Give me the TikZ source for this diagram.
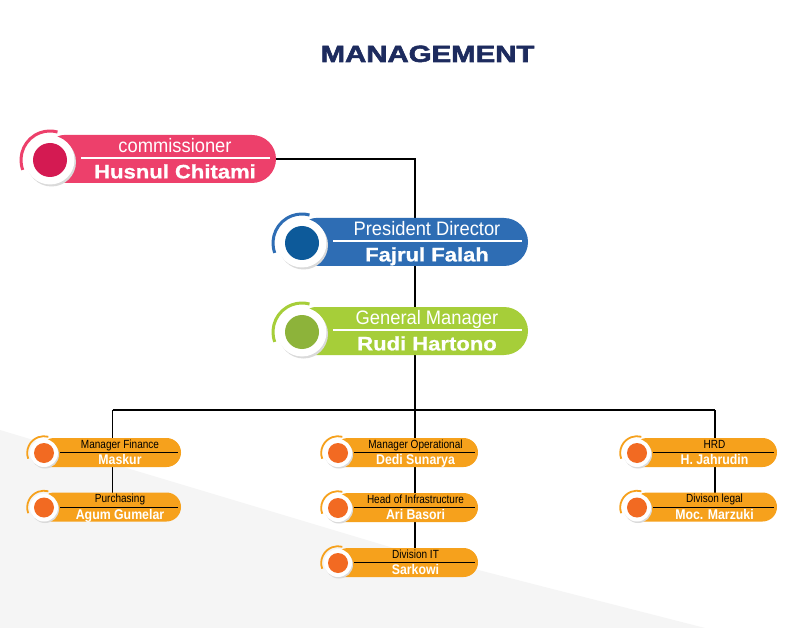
\documentclass[tikz,border=0pt]{standalone}
\usepackage{fontspec}
\setmainfont{Liberation Sans}
\newfontface\titleface{Liberation Sans Bold}[FakeBold=2.2]
\newfontface\heavyface{Liberation Sans Bold}[FakeBold=0.8]
\usepackage{graphicx}
\usetikzlibrary{calc}
\pgfdeclarelayer{bg}
\pgfsetlayers{bg,main}
\definecolor{pinkP}{HTML}{ED406B}
\definecolor{pinkD}{HTML}{D41A52}
\definecolor{blueP}{HTML}{2E6DB4}
\definecolor{blueD}{HTML}{0D5A9A}
\definecolor{greenP}{HTML}{A6CE39}
\definecolor{greenD}{HTML}{8DB33A}
\definecolor{orP}{HTML}{F6A11C}
\definecolor{orD}{HTML}{F26A22}
\definecolor{navy}{HTML}{1D2B5E}
\definecolor{shadowc}{HTML}{DADADA}
\definecolor{bgc}{HTML}{F5F5F5}
\newcommand\sx[2]{\scalebox{#1}[1]{#2}}
\tikzset{
  box/.style={inner sep=0pt, outer sep=0pt, draw=none},
  dotstyle/.style={circle, inner sep=0pt, outer sep=0pt, draw=none},
  conn/.style={draw=black, line width=1.8pt},
  bigtop/.style={anchor=base, inner sep=0pt, text=white, font=\fontsize{19.5}{22}\selectfont},
  bigbot/.style={anchor=base, inner sep=0pt, text=white, font=\fontsize{19.5}{22}\heavyface},
  smalltop/.style={anchor=base, inner sep=0pt, text=black, font=\fontsize{11.8}{13}\selectfont},
  smallbot/.style={anchor=base, inner sep=0pt, text=white, font=\fontsize{14}{16}\selectfont\bfseries},
  titlestyle/.style={anchor=base, inner sep=0pt, text=navy, font=\fontsize{23.5}{26}\titleface}
}
% pill background: #1 node, #2 colour, #3 half height, #4 corner radius
\newcommand\pillbg[4]{%
  \fill[#2] (#1.south west) -- ($(#1.north west)+(0,#4)$)
    arc[start angle=180,end angle=270,radius=#4]
    -- ($(#1.north east)+(-#3,0)$)
    arc[start angle=-90,end angle=90,radius=#3] -- cycle;}
% big node: #1 name, #2 pill colour, #3 dot colour, #4 cx, #5 top, #6 right, #7 top text, #8 bottom text
\newcommand\bignode[8]{%
  \node[box, minimum width={(#6-#4)*1pt}, minimum height=48pt] (#1) at ({(#4+#6)/2},{#5+24}) {};
  \pillbg{#1}{#2}{24}{14}
  \fill[shadowc] ({#4+1.5},{#5+27}) circle[radius=24.5pt];
  \fill[white] (#4,{#5+25}) circle[radius=24.5pt];
  \node[dotstyle, fill=#3, minimum size=34pt] (#1-dot) at (#4,{#5+25}) {};
  \draw[#2, line width=3pt] ($(#1-dot.center)+(160:29)$) arc[start angle=160,end angle=285,radius=29];
  \draw[white, line width=1.2pt] ({#4+31},{#5+23}) -- ({#6-6},{#5+23});
  \node[bigtop] (#1-t) at ({(#4+#6)/2+12},{#5+17.8}) {\sx{0.94}{#7}};
  \node[bigbot] (#1-b) at ({(#4+#6)/2+12},{#5+43.4}) {\sx{1.13}{#8}};
}
% small node: #1 name, #2 cx, #3 top, #4 right, #5 top text, #6 bottom text
\newcommand\smallnode[6]{%
  \node[box, minimum width={(#4-#2)*1pt}, minimum height=29pt] (#1) at ({(#2+#4)/2},{#3+14.5}) {};
  \pillbg{#1}{orP}{14.5}{9}
  \fill[shadowc] ({#2+1},{#3+16.5}) circle[radius=14pt];
  \fill[white] (#2,{#3+15}) circle[radius=14pt];
  \node[dotstyle, fill=orD, minimum size=20pt] (#1-dot) at (#2,{#3+15}) {};
  \draw[orP, line width=1.8pt] ($(#1-dot.center)+(160:16.8)$) arc[start angle=160,end angle=285,radius=16.8];
  \draw[black, line width=1pt] ({#2+16},{#3+14.5}) -- ({#4-3},{#3+14.5});
  \node[smalltop] (#1-t) at ({(#2+#4)/2+7.5},{#3+10}) {\sx{0.85}{#5}};
  \node[smallbot] (#1-b) at ({(#2+#4)/2+7.5},{#3+26.8}) {\sx{0.88}{#6}};
}
\begin{document}
\begin{tikzpicture}[x=1pt,y=-1pt]
\useasboundingbox (0,0) rectangle (800,628);
\node[titlestyle] (title) at (427.5,62) {\sx{1.25}{MANAGEMENT}};

\bignode{comm}{pinkP}{pinkD}{50}{135}{276}{commissioner}{Husnul Chitami}
\bignode{pres}{blueP}{blueD}{302}{218}{528}{President Director}{Fajrul Falah}
\bignode{gm}{greenP}{greenD}{302}{307}{528}{General Manager}{Rudi Hartono}

\smallnode{fin}{44}{438}{181}{Manager Finance}{Maskur}
\smallnode{pur}{44}{492.5}{181}{Purchasing}{Agum Gumelar}
\smallnode{ops}{338}{438}{478}{Manager Operational}{Dedi Sunarya}
\smallnode{inf}{338}{493}{478}{Head of Infrastructure}{Ari Basori}
\smallnode{dit}{338}{548}{478}{Division IT}{Sarkowi}
\smallnode{hrd}{637}{438}{777}{HRD}{H. Jahrudin}
\smallnode{leg}{637}{492.5}{777}{Divison legal}{Moc. Marzuki}

\coordinate (bus) at (415,410);
\coordinate (busL) at (112.5,410);
\coordinate (busR) at (715,410);

\begin{pgfonlayer}{bg}
  \fill[white] (0,0) rectangle (800,628);
  \fill[bgc] (0,430) -- (400,550) -- (705,628) -- (0,628) -- cycle;
  \draw[conn] (comm.east) -| (pres.north);
  \draw[conn] (pres.south) -- (gm.north);
  \draw[conn] (gm.south) -- (bus);
  \draw[conn] (busL) -- (busR);
  \draw[conn] (busL) -- (busL |- pur.north);
  \draw[conn] (bus) -- (bus |- dit.north);
  \draw[conn] (busR) -- (busR |- leg.north);
\end{pgfonlayer}
\end{tikzpicture}
\end{document}
